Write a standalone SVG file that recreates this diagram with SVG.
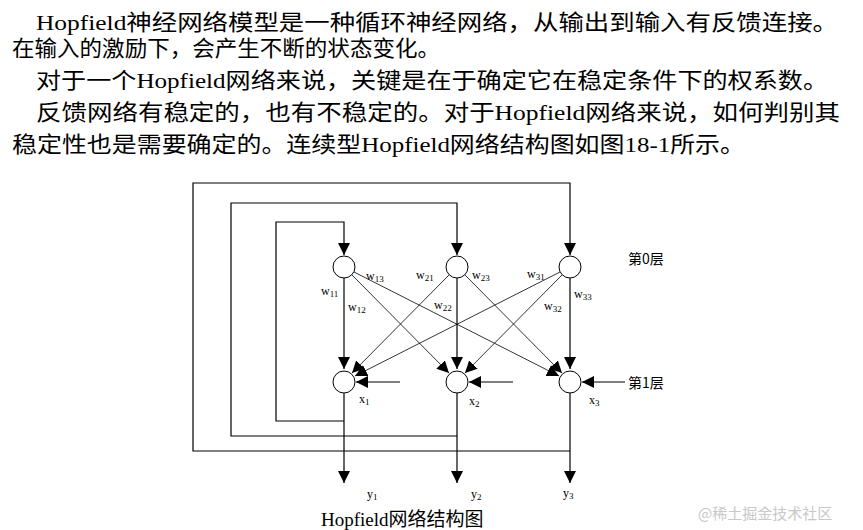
<svg xmlns="http://www.w3.org/2000/svg" width="863" height="530" viewBox="0 0 863 530">
<style>
.p{font-family:"Liberation Serif","Noto Sans CJK SC",serif;font-size:22px;fill:#000}
.s{font-family:"Liberation Serif",serif;font-size:12px;fill:#000}
.sub{font-size:9px}
.z{font-family:"Noto Sans CJK SC",sans-serif;font-size:14px;fill:#000}
.l{stroke:#000;stroke-width:1.2;fill:none}
.t{stroke:#000;stroke-width:0.8;fill:none}
.n{fill:#fff;stroke:#000;stroke-width:1}
</style>
<defs>
<marker id="b" viewBox="0 0 10 10" refX="10" refY="5" markerWidth="12" markerHeight="12" markerUnits="userSpaceOnUse" orient="auto"><path d="M0,0L10,5L0,10z" fill="#000"/></marker>
</defs>
<rect width="863" height="530" fill="#fff"/>
<g id="text">
<text class="p" x="36" y="30" textLength="802" lengthAdjust="spacingAndGlyphs">Hopfield神经网络模型是一种循环神经网络，从输出到输入有反馈连接。</text>
<text class="p" x="12" y="56" textLength="428" lengthAdjust="spacingAndGlyphs">在输入的激励下，会产生不断的状态变化。</text>
<text class="p" x="36" y="88" textLength="792" lengthAdjust="spacingAndGlyphs">对于一个Hopfield网络来说，关键是在于确定它在稳定条件下的权系数。</text>
<text class="p" x="36" y="120" textLength="804" lengthAdjust="spacingAndGlyphs">反馈网络有稳定的，也有不稳定的。对于Hopfield网络来说，如何判别其</text>
<text class="p" x="12" y="152" textLength="733" lengthAdjust="spacingAndGlyphs">稳定性也是需要确定的。连续型Hopfield网络结构图如图18-1所示。</text>
</g>
<g id="connectors">
<polyline class="l" points="344,421 276,421 276,222 344,222 344,255" marker-end="url(#b)"/>
<polyline class="l" points="457,436 231,436 231,203 457,203 457,255" marker-end="url(#b)"/>
<polyline class="l" points="570,451 193,451 193,183 570,183 570,255" marker-end="url(#b)"/>
<line class="l" x1="344" y1="278" x2="344" y2="369" marker-end="url(#b)"/>
<line class="l" x1="457" y1="278" x2="457" y2="369" marker-end="url(#b)"/>
<line class="l" x1="570" y1="278" x2="570" y2="369" marker-end="url(#b)"/>
<line class="t" x1="352" y1="275" x2="449" y2="373" marker-end="url(#b)"/>
<line class="t" x1="354" y1="272" x2="559" y2="376" marker-end="url(#b)"/>
<line class="t" x1="449" y1="275" x2="352" y2="373" marker-end="url(#b)"/>
<line class="t" x1="465" y1="275" x2="562" y2="373" marker-end="url(#b)"/>
<line class="t" x1="560" y1="272" x2="355" y2="376" marker-end="url(#b)"/>
<line class="t" x1="562" y1="275" x2="465" y2="373" marker-end="url(#b)"/>
<line class="l" x1="400" y1="382" x2="356" y2="382" marker-end="url(#b)"/>
<line class="l" x1="513" y1="382" x2="469" y2="382" marker-end="url(#b)"/>
<line class="l" x1="625" y1="382" x2="582" y2="382" marker-end="url(#b)"/>
<line class="l" x1="344" y1="393" x2="344" y2="483" marker-end="url(#b)"/>
<line class="l" x1="457" y1="393" x2="457" y2="483" marker-end="url(#b)"/>
<line class="l" x1="570" y1="393" x2="570" y2="483" marker-end="url(#b)"/>
</g>
<g id="n01"><circle class="n" cx="344" cy="267" r="11"/></g>
<g id="n02"><circle class="n" cx="457" cy="267" r="11"/></g>
<g id="n03"><circle class="n" cx="570" cy="267" r="11"/></g>
<g id="n11"><circle class="n" cx="344" cy="382" r="11"/></g>
<g id="n12"><circle class="n" cx="457" cy="382" r="11"/></g>
<g id="n13"><circle class="n" cx="570" cy="382" r="11"/></g>
<g id="labels">
<text class="s" x="366" y="280">w<tspan class="sub" dy="2">13</tspan></text>
<text class="s" x="416" y="279">w<tspan class="sub" dy="2">21</tspan></text>
<text class="s" x="472" y="279">w<tspan class="sub" dy="2">23</tspan></text>
<text class="s" x="527" y="278">w<tspan class="sub" dy="2">31</tspan></text>
<text class="s" x="321" y="295">w<tspan class="sub" dy="2">11</tspan></text>
<text class="s" x="348" y="311">w<tspan class="sub" dy="2">12</tspan></text>
<text class="s" x="434" y="309">w<tspan class="sub" dy="2">22</tspan></text>
<text class="s" x="544" y="310">w<tspan class="sub" dy="2">32</tspan></text>
<text class="s" x="574" y="298">w<tspan class="sub" dy="2">33</tspan></text>
<text class="s" x="359" y="403">x<tspan class="sub" dy="2">1</tspan></text>
<text class="s" x="469" y="405">x<tspan class="sub" dy="2">2</tspan></text>
<text class="s" x="589" y="404">x<tspan class="sub" dy="2">3</tspan></text>
<text class="s" x="367" y="498">y<tspan class="sub" dy="2">1</tspan></text>
<text class="s" x="471" y="498">y<tspan class="sub" dy="2">2</tspan></text>
<text class="s" x="563" y="497">y<tspan class="sub" dy="2">3</tspan></text>
<text class="z" x="628" y="264">第0层</text>
<text class="z" x="628" y="388">第1层</text>
<text class="p" x="321" y="526" style="font-size:19px">Hopfield网络结构图</text>
<text class="z" x="698" y="519" style="fill:#c8c8c8;font-size:15px">@稀土掘金技术社区</text>
</g>
</svg>
